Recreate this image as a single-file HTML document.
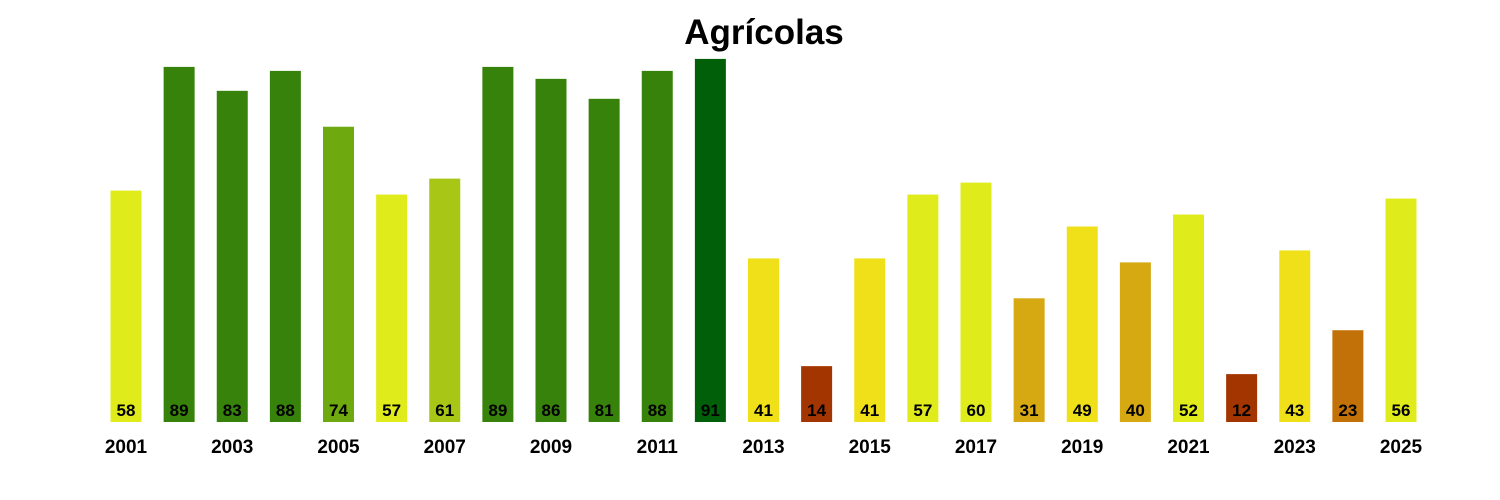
<!DOCTYPE html>
<html><head><meta charset="utf-8"><style>
html,body{margin:0;padding:0;background:#fff;}
svg{display:block;font-family:"Liberation Sans",Arial,sans-serif;}
</style></head><body>
<svg width="1500" height="500" xmlns="http://www.w3.org/2000/svg">
<text x="764" y="44" text-anchor="middle" font-size="35" font-weight="bold">Agrícolas</text>
<g id="bars"></g>
</svg>
<script>
const v=[58,89,83,88,74,57,61,89,86,81,88,91,41,14,41,57,60,31,49,40,52,12,43,23,56];
function col(x){if(x>=90)return"#005f08";if(x>=80)return"#37820a";if(x>=70)return"#6ea90f";if(x>=60&&x<61)return"#e0eb1c";if(x>=61)return"#a8c615";if(x>=50)return"#e0eb1c";if(x>=41)return"#f0e01a";if(x>=30)return"#d6a812";if(x>=20)return"#c27008";return"#a33500";}
let s="";
v.forEach((x,i)=>{const cx=126+i*53.125,h=x*3.99;
s+=`<rect x="${cx-15.5}" y="${422-h}" width="31" height="${h}" fill="${col(x)}"/>`;
s+=`<text x="${cx}" y="416" text-anchor="middle" font-size="17" font-weight="bold">${x}</text>`;
if(i%2==0)s+=`<text x="${cx}" y="453" text-anchor="middle" font-size="19" font-weight="bold">${2001+i}</text>`;});
document.getElementById("bars").innerHTML=s;
</script>
</body></html>
